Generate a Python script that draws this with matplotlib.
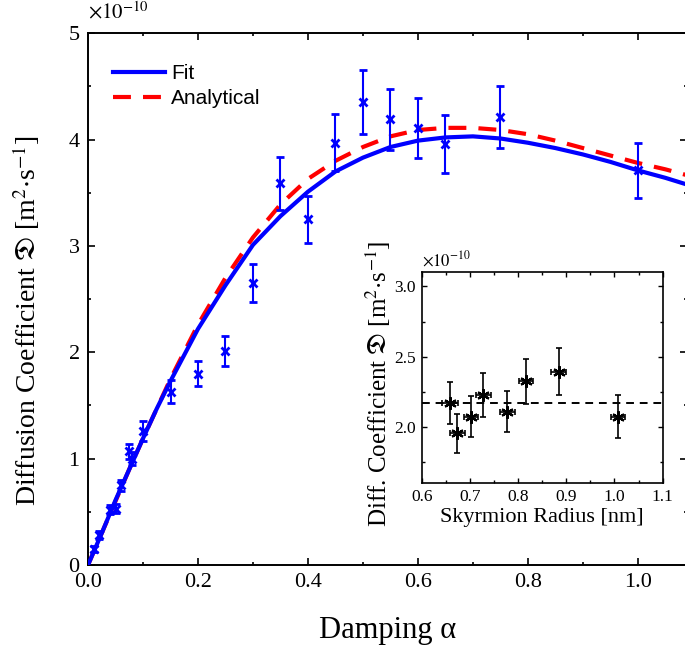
import matplotlib
matplotlib.use("Agg")
import matplotlib.pyplot as plt
from matplotlib.ticker import MultipleLocator

plt.rcParams['font.family'] = ['Liberation Serif', 'DejaVu Serif']
plt.rcParams['mathtext.fontset'] = 'stix'

# Simulation points: damping vs diffusion coefficient (units of 1e-10 m^2/s)
alpha = [0.01, 0.02, 0.04, 0.05, 0.06, 0.075, 0.08, 0.1, 0.15, 0.2,
         0.25, 0.3, 0.35, 0.4, 0.45, 0.5, 0.55, 0.6, 0.65, 0.75, 1.0]
diff = [0.15, 0.28, 0.52, 0.53, 0.75, 1.07, 1.00, 1.26, 1.63, 1.80,
        2.01, 2.65, 3.59, 3.25, 3.97, 4.35, 4.19, 4.11, 3.96, 4.21, 3.71]
diff_err = [0.03, 0.04, 0.04, 0.04, 0.05, 0.07, 0.06, 0.095, 0.11, 0.12,
            0.14, 0.18, 0.25, 0.22, 0.27, 0.30, 0.29, 0.28, 0.27, 0.29, 0.26]

# Fitted and analytical curves
curve_alpha = [0.0, 0.025, 0.05, 0.075, 0.1, 0.125, 0.15, 0.2, 0.25, 0.3,
               0.35, 0.4, 0.45, 0.5, 0.55, 0.6, 0.65, 0.7, 0.75, 0.8,
               0.85, 0.9, 0.95, 1.0, 1.05, 1.1]
fit_curve = [0.0, 0.30, 0.61, 0.90, 1.19, 1.47, 1.73, 2.22, 2.63, 3.01,
             3.28, 3.51, 3.70, 3.83, 3.93, 3.99, 4.02, 4.03, 4.01, 3.97,
             3.92, 3.86, 3.79, 3.71, 3.64, 3.56]
analytical_curve = [0.0, 0.30, 0.60, 0.90, 1.19, 1.47, 1.75, 2.26, 2.70, 3.08,
                    3.39, 3.63, 3.80, 3.93, 4.03, 4.09, 4.11, 4.11, 4.09, 4.05,
                    3.99, 3.92, 3.85, 3.78, 3.72, 3.65]

# Inset: radius dependence
radius = [0.659, 0.674, 0.702, 0.728, 0.778, 0.816, 0.884, 1.007]
radius_err = [0.016, 0.015, 0.015, 0.015, 0.015, 0.015, 0.015, 0.015]
diff_r = [2.17, 1.955, 2.075, 2.23, 2.11, 2.325, 2.395, 2.075]
diff_r_err = [0.15, 0.14, 0.147, 0.157, 0.147, 0.16, 0.167, 0.15]
diff_r_mean = 2.17

fig = plt.figure(figsize=(6.85, 6.47), dpi=100)
ax = fig.add_axes([0.1285, 0.1267, 0.875, 0.822])

ax.plot(curve_alpha, fit_curve, color='#0000FF', lw=3, label='Fit', zorder=3)
ax.plot(curve_alpha, analytical_curve, color='#FF0000', lw=3, dashes=(4.3, 2.9),
        label='Analytical', zorder=2)
ax.errorbar(alpha, diff, yerr=diff_err, fmt='x', color='#0000FF', ms=6, mew=2,
            elinewidth=1.5, capsize=3, capthick=1.5, zorder=4)

ax.set_xlim(0, 1.09)
ax.set_ylim(0, 5)
ax.xaxis.set_major_locator(MultipleLocator(0.2))
ax.xaxis.set_minor_locator(MultipleLocator(0.1))
ax.yaxis.set_major_locator(MultipleLocator(1))
ax.yaxis.set_minor_locator(MultipleLocator(0.5))
ax.set_xticks([0.0, 0.2, 0.4, 0.6, 0.8, 1.0])
ax.set_xticklabels(['0.0', '0.2', '0.4', '0.6', '0.8', '1.0'])
ax.set_yticks([0, 1, 2, 3, 4, 5])
ax.set_yticklabels(['0', '1', '2', '3', '4', '5'])
ax.tick_params(which='both', direction='in', top=True, right=True,
               labelsize=16, pad=6, width=1.2)
ax.tick_params(which='major', length=5)
ax.tick_params(which='minor', length=2.5)
for s in ax.spines.values():
    s.set_linewidth(1.4)

ax.set_xlabel('Damping α', fontsize=22, labelpad=17)
ax.set_ylabel(r'Diffusion Coefficient $\mathfrak{D}$ [m$^{2}$$\cdot$s$^{-1}$]',
              fontsize=20)
ax.yaxis.set_label_coords(-0.077, 0.46)
ax.text(0.0, 1.018, r'$\times10^{-10}$', transform=ax.transAxes,
        fontsize=15, ha='left', va='bottom')

ax.legend(loc='upper left', bbox_to_anchor=(0.0417, 0.942), frameon=False,
          prop={'family': 'Liberation Sans', 'size': 15},
          borderaxespad=0, borderpad=0,
          handlelength=2.5, handletextpad=0.3, labelspacing=0.3)

# Inset
ins = fig.add_axes([0.6156, 0.253, 0.3518, 0.326])
ins.errorbar(radius, diff_r, xerr=radius_err, yerr=diff_r_err, fmt='none',
             ecolor='black', elinewidth=1.2, capsize=2, capthick=1.2)
ins.plot(radius, diff_r, linestyle='none', marker=(6, 2, 0), color='black',
         ms=9, mew=1.6)
ins.axhline(diff_r_mean, color='black', lw=1.4, dashes=(4, 3))
ins.set_xlim(0.6, 1.1)
ins.set_ylim(1.6, 3.1)
ins.set_xticks([0.6, 0.7, 0.8, 0.9, 1.0, 1.1])
ins.set_xticklabels(['0.6', '0.7', '0.8', '0.9', '1.0', '1.1'])
ins.xaxis.set_minor_locator(MultipleLocator(0.05))
ins.set_yticks([2.0, 2.5, 3.0])
ins.set_yticklabels(['2.0', '2.5', '3.0'])
ins.yaxis.set_minor_locator(MultipleLocator(0.25))
ins.tick_params(which='both', direction='in', top=True, right=True,
                labelsize=12.5, pad=4, width=1.0)
ins.tick_params(which='major', length=3.5)
ins.tick_params(which='minor', length=2)
for s in ins.spines.values():
    s.set_linewidth(1.2)
ins.set_xlabel('Skyrmion Radius [nm]', fontsize=16, labelpad=2)
ins.set_ylabel(r'Diff. Coefficient $\mathfrak{D}$ [m$^{2}$$\cdot$s$^{-1}$]',
               fontsize=18)
ins.yaxis.set_label_coords(-0.12, 0.47)
ins.text(0.0, 1.01, r'$\times10^{-10}$', transform=ins.transAxes,
         fontsize=12, ha='left', va='bottom')

fig.savefig('out.png', dpi=100)
